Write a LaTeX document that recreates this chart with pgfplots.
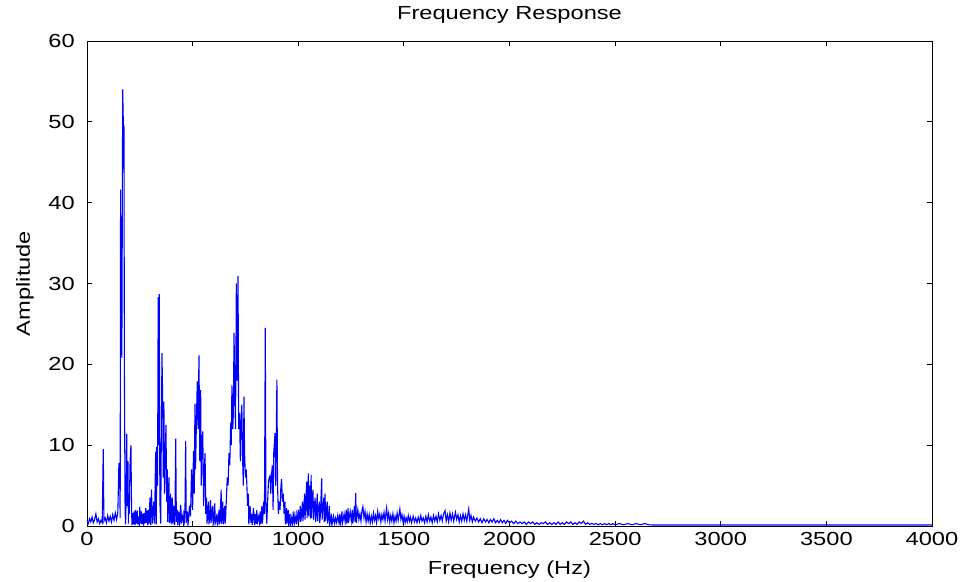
\documentclass[border=0pt]{standalone}
\usepackage{fontspec}
\setmainfont{Liberation Sans}[FakeStretch=1.25]
\usepackage{pgfplots}
\pgfplotsset{compat=1.18}

% spectrum samples: frequency (Hz), amplitude
\pgfplotstableread{
f a
0 0.6
6 0.3
12 0.9
18 0.5
24 1.1
30 0.4
36 0.8
42 1.5
48 0.5
54 0.9
60 0.3
66 0.7
72 0.4
77 9.5
80 0.6
86 1.0
92 0.4
98 1.3
104 0.6
110 1.2
116 0.5
122 1.4
128 0.7
134 1.6
140 0.8
146 1.7
151 7.8
154 7.3
157 1.0
159 41.6
162 24.7
165 20.8
169 54.0
172 49.8
175 49.4
177 20.0
180 3.0
182 0.2
184 1.2
188 11.4
191 2.5
194 8.0
196 0.3
197 4.0
200 1.5
204 8.0
208 10.0
211 2.0
213 0.1
215 0.5
218 1.6
220 0.2
223 1.8
225 0.6
228 0.1
230 2.0
233 0.3
235 0.7
238 1.9
240 0.2
243 1.2
245 0.4
248 0.1
250 2.4
253 0.3
255 0.8
258 1.8
260 0.2
263 1.5
265 0.5
268 0.2
270 1.6
273 0.3
275 0.7
278 2.2
280 0.4
283 1.9
285 0.6
288 0.1
290 2.0
293 0.3
295 1.2
298 3.5
300 0.5
302 0.1
305 4.5
308 2.0
310 0.3
312 1.2
316 3.0
320 0.3
323 6.0
325 9.2
328 0.2
330 9.8
334 5.0
337 28.3
340 10.0
342 28.7
345 3.0
349 0.3
352 12.0
355 21.4
358 16.0
361 6.0
364 15.4
367 4.0
370 8.5
374 12.5
377 3.0
380 7.0
382 0.5
384 2.5
388 6.0
390 0.4
392 1.5
396 4.0
398 0.2
400 1.0
404 3.5
406 0.3
408 0.8
412 2.5
414 0.1
416 0.4
420 10.8
423 0.5
427 2.0
429 0.1
431 0.6
435 1.8
438 0.2
440 0.4
443 2.6
445 2.0
448 0.3
450 0.8
455 1.5
458 0.1
460 0.3
464 2.4
467 10.5
470 0.4
475 1.8
478 0.2
480 0.5
485 2.5
490 1.2
495 7.0
500 2.0
504 9.3
508 4.0
511 15.1
514 7.0
518 13.0
522 17.9
526 12.0
530 21.1
534 8.0
538 16.8
541 5.0
544 10.0
548 11.7
552 2.5
555 7.0
559 9.0
562 1.5
566 3.5
568 0.3
570 1.0
575 3.0
577 0.2
580 0.8
585 3.2
587 0.4
590 1.2
595 2.5
597 0.2
600 0.6
605 2.8
607 0.3
610 0.5
615 1.5
618 0.1
620 0.3
625 2.0
628 0.2
630 0.8
635 4.5
637 0.3
639 1.5
643 3.0
645 0.2
647 0.6
652 2.5
654 0.3
656 1.0
660 3.5
664 6.0
668 5.0
672 9.0
676 7.5
680 12.8
683 10.0
686 17.4
690 12.0
693 14.0
696 23.9
700 16.0
703 12.0
707 30.0
711 18.0
715 30.9
718 12.0
722 14.0
726 8.0
729 13.0
733 15.0
736 9.0
740 5.0
743 16.0
746 9.0
750 6.0
754 7.0
757 4.9
760 2.5
764 4.0
766 0.2
768 1.0
772 2.5
776 0.4
780 1.5
782 0.1
784 0.6
788 2.2
792 0.5
794 0.1
796 1.5
800 0.3
804 2.0
806 0.2
808 0.8
812 1.2
816 0.4
820 1.8
822 0.2
824 0.6
828 2.5
830 0.3
832 0.8
836 3.0
840 1.5
844 24.5
847 3.0
851 0.3
855 3.0
859 5.5
863 6.0
866 6.2
870 4.0
873 6.1
877 7.5
881 2.0
884 9.0
887 10.3
890 11.5
893 5.0
896 11.0
899 18.1
902 5.0
906 1.5
910 3.0
914 2.0
917 4.5
921 5.8
925 3.0
929 4.0
933 1.5
937 3.0
939 0.2
941 0.6
945 2.2
947 0.3
949 1.0
953 2.0
955 0.2
957 0.5
961 1.5
963 0.1
965 0.4
970 1.2
972 0.2
975 0.5
980 1.8
982 0.3
985 0.6
990 1.4
992 0.2
995 0.7
1000 2.0
1002 0.4
1005 1.0
1010 2.5
1012 0.5
1015 1.2
1020 3.0
1022 0.6
1025 1.5
1030 4.0
1032 0.8
1035 2.5
1040 5.5
1042 1.0
1044 3.0
1048 6.5
1050 1.2
1052 4.0
1056 5.0
1058 0.9
1061 6.3
1063 1.0
1065 3.0
1070 4.5
1072 0.8
1075 2.0
1080 3.5
1082 0.5
1085 1.2
1090 4.0
1092 0.6
1095 2.0
1100 3.0
1102 0.4
1105 1.5
1111 5.9
1113 0.8
1116 2.0
1121 3.5
1123 0.5
1127 4.0
1129 0.6
1132 1.5
1137 3.0
1139 0.3
1142 0.8
1147 2.5
1149 0.2
1152 0.6
1157 1.5
1159 0.1
1162 0.4
1167 1.2
1172 0.3
1177 1.0
1182 0.4
1187 1.3
1192 0.5
1197 1.5
1199 0.2
1202 0.6
1207 1.8
1209 0.3
1212 0.7
1217 1.5
1222 0.5
1227 2.0
1229 0.3
1232 0.8
1236 2.2
1238 0.4
1241 1.0
1246 1.8
1251 0.6
1256 2.0
1258 0.3
1261 1.0
1266 2.5
1269 0.5
1272 4.1
1275 0.4
1277 1.0
1282 2.0
1287 0.8
1292 1.5
1297 0.6
1302 2.0
1306 2.4
1311 1.0
1316 1.8
1321 0.5
1326 1.5
1331 0.6
1336 1.4
1341 0.4
1346 1.2
1351 0.5
1356 1.6
1361 0.7
1366 1.3
1371 0.4
1376 1.8
1381 0.9
1386 1.5
1391 0.5
1396 1.4
1401 0.8
1406 1.7
1411 0.6
1418 2.2
1423 0.8
1428 1.6
1433 0.5
1438 1.3
1443 0.6
1448 1.5
1453 0.4
1458 1.2
1463 0.6
1468 1.6
1473 0.7
1481 2.1
1486 0.8
1491 1.4
1496 0.5
1501 1.2
1506 0.4
1511 1.0
1516 0.5
1521 1.3
1526 0.6
1531 1.1
1536 0.4
1544 1.2
1550 0.5
1556 1.0
1562 0.4
1568 1.1
1574 0.5
1580 1.3
1586 0.6
1592 1.0
1598 0.4
1604 1.2
1610 0.5
1616 1.4
1622 0.6
1628 1.1
1634 0.4
1640 1.3
1646 0.6
1652 1.2
1658 0.5
1664 1.5
1670 0.7
1676 1.3
1682 0.6
1688 1.5
1695 1.9
1700 0.6
1706 1.4
1712 0.5
1718 1.6
1724 0.7
1730 1.5
1736 0.6
1744 1.7
1750 0.8
1756 1.4
1762 0.5
1768 1.3
1774 0.6
1780 1.5
1786 0.7
1792 1.4
1798 0.6
1807 2.1
1812 0.7
1818 1.3
1824 0.5
1830 1.1
1838 0.6
1846 1.0
1854 0.5
1862 0.9
1870 0.4
1878 0.9
1886 0.5
1894 0.8
1902 0.4
1910 0.8
1918 0.5
1926 0.9
1934 0.4
1942 0.7
1950 0.4
1958 0.8
1966 0.4
1974 0.7
1982 0.3
1990 0.7
2000 0.4
2010 0.6
2020 0.3
2030 0.6
2040 0.3
2050 0.5
2060 0.3
2070 0.5
2080 0.2
2090 0.5
2100 0.3
2110 0.5
2120 0.2
2130 0.4
2140 0.2
2150 0.4
2160 0.3
2170 0.5
2180 0.2
2190 0.4
2200 0.2
2210 0.4
2220 0.2
2230 0.5
2240 0.2
2250 0.4
2260 0.2
2270 0.5
2280 0.3
2290 0.5
2300 0.2
2310 0.4
2320 0.2
2330 0.5
2340 0.3
2350 0.6
2360 0.2
2370 0.4
2380 0.2
2390 0.3
2400 0.2
2410 0.3
2420 0.15
2430 0.3
2440 0.15
2450 0.3
2460 0.15
2470 0.3
2480 0.15
2490 0.3
2500 0.15
2520 0.3
2540 0.15
2560 0.3
2580 0.15
2600 0.3
2620 0.15
2640 0.3
2660 0.15
2680 0.12
3000 0.12
3500 0.12
4000 0.12
}\spectrum

\begin{document}
\begin{tikzpicture}
\begin{axis}[
    at={(0,0)}, anchor=south west,
    scale only axis,
    width=845bp, height=485bp,
    xmin=0, xmax=4000, ymin=0, ymax=60,
    xtick={0,500,...,4000},
    ytick={0,10,...,60},
    tick align=inside,
    major tick length=5bp,
    every tick/.style={black, line width=0.8bp},
    axis line style={black, line width=0.9bp},
    /pgf/number format/assume math mode=true,
    /pgf/number format/1000 sep={},
    tick label style={font=\fontsize{19}{21}\selectfont, inner sep=0pt},
    xticklabel style={anchor=base, yshift=-19bp},
    yticklabel style={anchor=east, xshift=-12bp},
    title={Frequency Response},
    title style={font=\fontsize{19}{21}\selectfont, at={(axis description cs:0.5,1.033)}, anchor=base, inner sep=0pt},
    xlabel={Frequency (Hz)},
    xlabel style={font=\fontsize{19}{21}\selectfont, at={(axis description cs:0.5,-0.099)}, anchor=base, inner sep=0pt},
    ylabel={Amplitude},
    ylabel style={font=\fontsize{19}{21}\selectfont, at={(axis description cs:-0.0675,0.5)}, anchor=base, inner sep=0pt},
]
\addplot[color=blue, line width=1.1bp, mark=none] table[x=f, y=a] {\spectrum};
\end{axis}
\pgfresetboundingbox
\path (-87bp,-56bp) rectangle (879bp,526bp);
\end{tikzpicture}
\end{document}
